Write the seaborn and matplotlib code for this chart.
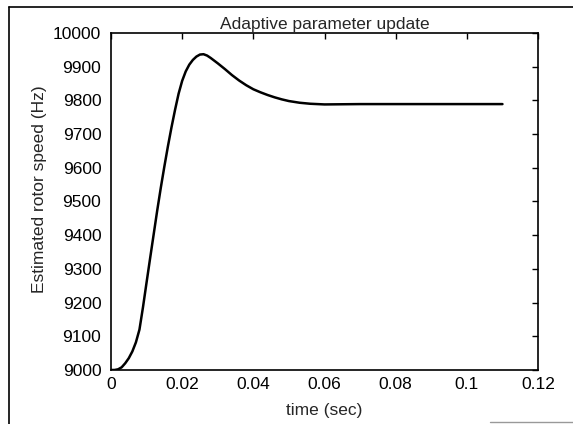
import numpy as np
import pandas as pd
import matplotlib
matplotlib.use('Agg')
import matplotlib.pyplot as plt
import seaborn as sns
from matplotlib.lines import Line2D

# values
time_sec = [0, 0.001, 0.002, 0.003, 0.004, 0.005, 0.006, 0.007, 0.008, 0.009,
            0.010, 0.011, 0.012, 0.013, 0.014, 0.015, 0.016, 0.017, 0.018, 0.019,
            0.020, 0.021, 0.022, 0.023, 0.024, 0.025, 0.026, 0.027, 0.028, 0.030,
            0.032, 0.034, 0.036, 0.038, 0.040, 0.042, 0.044, 0.046, 0.048, 0.050,
            0.053, 0.056, 0.060, 0.070, 0.080, 0.090, 0.100, 0.110]
speed_hz = [9000, 9000, 9002, 9008, 9020, 9035, 9055, 9082, 9120, 9187,
            9260, 9332, 9403, 9474, 9541, 9604, 9664, 9720, 9772, 9820,
            9858, 9886, 9906, 9920, 9930, 9936, 9937, 9933, 9926, 9910,
            9893, 9875, 9859, 9845, 9833, 9824, 9816, 9809, 9803, 9798,
            9793, 9790, 9788, 9789, 9789, 9789, 9789, 9789]
x_ticks = [0, 0.02, 0.04, 0.06, 0.08, 0.1, 0.12]
x_ticklabels = ['0', '0.02', '0.04', '0.06', '0.08', '0.1', '0.12']
y_ticks = [9000, 9100, 9200, 9300, 9400, 9500, 9600, 9700, 9800, 9900, 10000]

df = pd.DataFrame({'time': time_sec, 'speed': speed_hz})

sns.set_style('white')
plt.rcParams['font.family'] = ['Liberation Sans', 'DejaVu Sans']

fig = plt.figure(figsize=(5.73, 4.24), dpi=100)
ax = fig.add_axes([0.1937, 0.1274, 0.7453, 0.7948])

sns.lineplot(data=df, x='time', y='speed', ax=ax, color='black', linewidth=1.8)

ax.set_xlim(0, 0.12)
ax.set_ylim(9000, 10000)
ax.set_xticks(x_ticks)
ax.set_xticklabels(x_ticklabels)
ax.set_yticks(y_ticks)
ax.tick_params(direction='in', top=True, right=True, length=4, width=1,
               labelsize=12.5, colors='black')
ax.tick_params(axis='y', pad=7)
ax.tick_params(axis='x', pad=5)
for s in ax.spines.values():
    s.set_color('black')
    s.set_linewidth(1.2)

ax.set_title('Adaptive parameter update', fontsize=12.5, pad=3)
ax.set_xlabel('time (sec)', fontsize=12.5, labelpad=8)
ax.set_ylabel('Estimated rotor speed (Hz)', fontsize=12.5)
ax.yaxis.set_label_coords(-0.150, 0.537)

# scanned page frame
fig.add_artist(Line2D([0.016, 0.016], [0.0, 0.984], color='black', lw=1.2))
fig.add_artist(Line2D([0.016, 1.0], [0.984, 0.984], color='black', lw=1.2))
fig.add_artist(Line2D([0.855, 1.0], [0.005, 0.005], color='#999999', lw=1))

fig.savefig('out.png', dpi=100)
